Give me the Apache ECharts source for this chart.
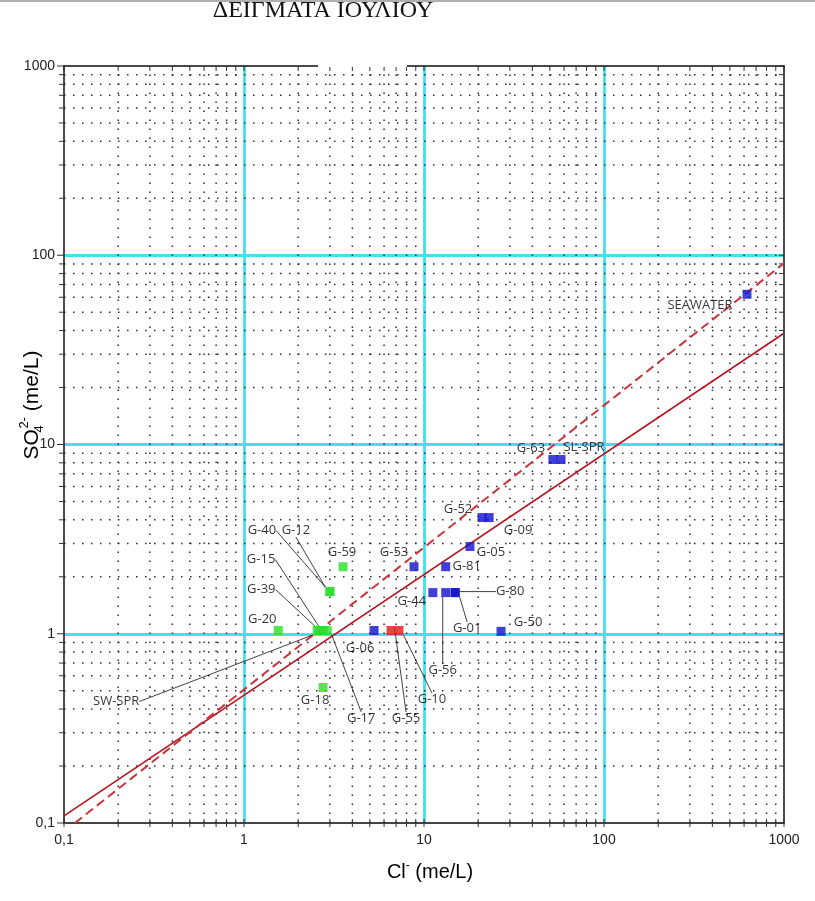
<!DOCTYPE html>
<html><head><meta charset="utf-8">
<script src="https://cdn.jsdelivr.net/npm/echarts@6/dist/echarts.min.js"></script>
<style>html,body{margin:0;padding:0;background:#fff}#c{width:815px;height:901px}</style>
</head><body><div id="c"></div>
<script>
// ---- axis ticks ----
const xTicks = [0.1, 1, 10, 100, 1000];
const yTicks = [0.1, 1, 10, 100, 1000];
const xTickLabels = ['0,1', '1', '10', '100', '1000'];
const yTickLabels = ['0,1', '1', '10', '100', '1000'];
const minorSteps = [2, 3, 4, 5, 6, 7, 8, 9];

// ---- samples (Cl- and SO4 2- in me/L) ----
const greenNames = ['G-20', 'SW-SPR', 'G-39', 'G-15', 'G-17', 'G-40', 'G-12', 'G-59', 'G-18'];
const greenCl    = [1.55, 2.55, 2.62, 2.75, 2.9, 3.0, 3.0, 3.55, 2.75];
const greenSO4   = [1.04, 1.04, 1.04, 1.04, 1.04, 1.67, 1.67, 2.26, 0.52];

const redNames = ['G-55', 'G-10'];
const redCl    = [6.56, 7.26];
const redSO4   = [1.04, 1.04];

const blueNames = ['G-06', 'G-53', 'G-44', 'G-56', 'G-81', 'G-01', 'G-80', 'G-05', 'G-52', 'G-09', 'G-50', 'G-63', 'SL-SPR', 'SEAWATER'];
const blueCl    = [5.28, 8.8, 11.2, 13.2, 13.2, 14.9, 14.9, 18.0, 21.0, 23.0, 26.8, 52.0, 57.7, 623];
const blueSO4   = [1.04, 2.26, 1.65, 1.65, 2.26, 1.65, 1.65, 2.89, 4.11, 4.11, 1.03, 8.33, 8.33, 62.2];

// ---- reference lines ----
const solidLineCl  = [0.1, 1000];
const solidLineSO4 = [0.109, 38.7];
const dashLineCl   = [0.115, 1000];
const dashLineSO4  = [0.1, 90.7];

// ---- label placement (pixel offsets of label centre from the mark; leader line flag) ----
const labelPlace = {
  'G-40': [-68, -61, true], 'G-12': [-34, -61, true], 'G-15': [-62, -71, true],
  'G-39': [-58, -41, true], 'G-20': [-16, -11, false], 'SW-SPR': [-201, 71, true],
  'G-17': [34, 88, true], 'G-18': [-8, 13, false], 'G-59': [-1, -14, false],
  'G-53': [-20, -14, false], 'G-06': [-14, 18, false], 'G-55': [15, 88, true],
  'G-10': [33, 69, true], 'G-44': [-21, 9, false], 'G-56': [-3, 78, true],
  'G-01': [12, 36, true], 'G-80': [55, -1, true], 'G-81': [21, 0, false],
  'G-05': [21, 6, false], 'G-52': [-24, -8, false], 'G-09': [29, 13, false],
  'G-50': [27, -9, false], 'G-63': [-22, -11, false], 'SL-SPR': [23, -12, false],
  'SEAWATER': [-47, 11, false]
};

function pts(names, xs, ys) {
  return names.map((n, i) => ({
    name: n, value: [xs[i], ys[i]],
    labelLine: { show: !!(labelPlace[n] && labelPlace[n][2]) }
  }));
}

const minorX = [], minorY = [];
xTicks.forEach(t => minorSteps.forEach(k => { if (t * k < 1000) minorX.push([t * k, 1]); }));
yTicks.forEach(t => minorSteps.forEach(k => { if (t * k < 1000) minorY.push([1, t * k]); }));
const majorX = xTicks.map(v => [v, 1]);
const majorY = yTicks.map(v => [1, v]);

const dotStyle = { stroke: '#3a2148', lineWidth: 1.5, lineDash: [1.5, 7.5] };
const tickStyle = { stroke: '#333', lineWidth: 1 };

function xGuide(minor) {
  return function (params, api) {
    const v = api.value(0);
    const b = api.coord([v, 0.1]), t = api.coord([v, 1000]);
    const ch = [
      { type: 'line', shape: { x1: b[0], y1: b[1] - 4, x2: b[0], y2: b[1] + 4 }, style: tickStyle },
      { type: 'line', shape: { x1: t[0], y1: t[1], x2: t[0], y2: t[1] + 5 }, style: tickStyle }
    ];
    if (minor) ch.push({ type: 'line', shape: { x1: b[0], y1: b[1], x2: t[0], y2: t[1] }, style: dotStyle });
    return { type: 'group', children: ch };
  };
}
function yGuide(minor) {
  return function (params, api) {
    const v = api.value(1);
    const l = api.coord([0.1, v]), r = api.coord([1000, v]);
    const len = minor ? 5 : 7;
    const ch = [
      { type: 'line', shape: { x1: l[0] - len, y1: l[1], x2: l[0], y2: l[1] }, style: tickStyle },
      { type: 'line', shape: { x1: r[0] - 5, y1: r[1], x2: r[0], y2: r[1] }, style: tickStyle }
    ];
    if (minor) ch.push({ type: 'line', shape: { x1: l[0], y1: l[1], x2: r[0], y2: r[1] }, style: dotStyle });
    return { type: 'group', children: ch };
  };
}

function scatter(names, xs, ys, color) {
  return {
    type: 'scatter', symbol: 'rect', symbolSize: 9, z: 5,
    itemStyle: { color: color },
    data: pts(names, xs, ys),
    label: {
      show: true, position: 'inside', formatter: '{b}',
      fontFamily: 'Open Sans', fontSize: 13, color: '#000', textBorderWidth: 0
    },
    labelLine: { show: false, length2: 0, lineStyle: { color: '#111', width: 0.8 } },
    labelLayout: function (p) {
      const o = labelPlace[p.text] || [0, 0];
      return { dx: o[0], dy: o[1] };
    },
    emphasis: { disabled: true }
  };
}

const chart = echarts.init(document.getElementById('c'), null, { renderer: 'canvas' });
const axisLabelStyle = { fontFamily: 'Liberation Sans', fontSize: 14, color: '#222' };
chart.setOption({
  backgroundColor: '#fff',
  animation: false,
  grid: { left: 64, right: 31, top: 66, bottom: 78 },
  xAxis: [{
    type: 'log', logBase: 10, min: 0.1, max: 1000,
    axisLine: { show: true, onZero: false, lineStyle: { color: '#444', width: 2 } },
    axisTick: { show: false },
    axisLabel: Object.assign({ margin: 10, formatter: v => xTickLabels[xTicks.findIndex(t => Math.abs(t - v) / t < 1e-6)] || '' }, axisLabelStyle),
    splitLine: { show: true, showMinLine: false, showMaxLine: false, lineStyle: { color: '#45e0ea', width: 2.8 } },
    minorTick: { show: false }, minorSplitLine: { show: false }
  }, {
    type: 'log', logBase: 10, min: 0.1, max: 1000, position: 'top',
    axisLine: { show: true, onZero: false, lineStyle: { color: '#111', width: 1.5 } },
    axisTick: { show: false }, axisLabel: { show: false }, splitLine: { show: false }
  }],
  yAxis: [{
    type: 'log', logBase: 10, min: 0.1, max: 1000,
    axisLine: { show: true, onZero: false, lineStyle: { color: '#111', width: 1.5 } },
    axisTick: { show: false },
    axisLabel: Object.assign({ margin: 9, formatter: v => yTickLabels[yTicks.findIndex(t => Math.abs(t - v) / t < 1e-6)] || '' }, axisLabelStyle),
    splitLine: { show: true, showMinLine: false, showMaxLine: false, lineStyle: { color: '#45e0ea', width: 2.8 } }
  }, {
    type: 'log', logBase: 10, min: 0.1, max: 1000, position: 'right',
    axisLine: { show: true, onZero: false, lineStyle: { color: '#111', width: 1.5 } },
    axisTick: { show: false }, axisLabel: { show: false }, splitLine: { show: false }
  }],
  series: [
    { type: 'custom', renderItem: xGuide(true), data: minorX, z: 1, silent: true, clip: false },
    { type: 'custom', renderItem: xGuide(false), data: majorX, z: 1, silent: true, clip: false },
    { type: 'custom', renderItem: yGuide(true), data: minorY, z: 1, silent: true, clip: false },
    { type: 'custom', renderItem: yGuide(false), data: majorY, z: 1, silent: true, clip: false },
    { type: 'line', data: solidLineCl.map((v, i) => [v, solidLineSO4[i]]), symbol: 'none', z: 3,
      lineStyle: { color: '#b8141f', width: 1.6 }, silent: true },
    { type: 'line', data: dashLineCl.map((v, i) => [v, dashLineSO4[i]]), symbol: 'none', z: 3,
      lineStyle: { color: '#c9353a', width: 2, type: [9, 5] }, silent: true },
    scatter(greenNames, greenCl, greenSO4, '#28e028'),
    scatter(redNames, redCl, redSO4, '#e81414'),
    scatter(blueNames, blueCl, blueSO4, '#1010d0')
  ],
  graphic: [
    { type: 'text', x: 323, y: 23, z: 99,
      style: { text: 'ΔΕΙΓΜΑΤΑ ΙΟΥΛΙΟΥ', font: '24px "Liberation Serif"', fill: '#111', align: 'center', verticalAlign: 'bottom' } },
    { type: 'rect', shape: { x: 0, y: 0, width: 815, height: 2 }, style: { fill: '#b0b0b0' }, z: 100 },
    { type: 'rect', shape: { x: 318, y: 63, width: 89, height: 4 }, style: { fill: '#fff' }, z: 100 },
    { type: 'text', x: 430, y: 872, z: 100,
      style: {
        text: '{a|Cl}{s|-}{a| (me/L)}', align: 'center', verticalAlign: 'middle',
        rich: {
          a: { fontFamily: 'Liberation Sans', fontSize: 20, color: '#222', lineHeight: 24 },
          s: { fontFamily: 'Liberation Sans', fontSize: 12, color: '#222', verticalAlign: 'top', lineHeight: 12 }
        }
      } },
    { type: 'text', x: 32, y: 405, rotation: Math.PI / 2, z: 100,
      style: {
        text: '{a|SO}{b|4}{c|2-}{a| (me/L)}', align: 'center', verticalAlign: 'middle',
        rich: {
          a: { fontFamily: 'Liberation Sans', fontSize: 21, color: '#222', lineHeight: 28 },
          b: { fontFamily: 'Liberation Sans', fontSize: 13, color: '#222', verticalAlign: 'bottom', lineHeight: 13, width: 0.5 },
          c: { fontFamily: 'Liberation Sans', fontSize: 13, color: '#222', verticalAlign: 'top', lineHeight: 13 }
        }
      } }
  ]
});
</script></body></html>
